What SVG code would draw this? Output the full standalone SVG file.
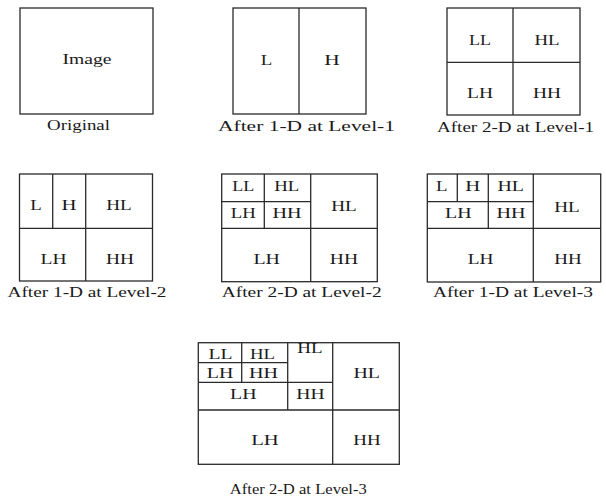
<svg xmlns="http://www.w3.org/2000/svg" width="606" height="499" viewBox="0 0 606 499">
<style>
rect.b{fill:#fff;stroke:#2a2a2a;stroke-width:1.3}
line{stroke:#2a2a2a;stroke-width:1.3}
text{font-family:"Liberation Serif","Times New Roman",serif;font-size:15px;fill:#1a1a1a;text-anchor:middle}
</style>
<rect width="606" height="499" fill="#fff"/>
<g id="original">
<rect class="b" x="20" y="8" width="133" height="106"/>
<text x="87" y="64" textLength="49" lengthAdjust="spacingAndGlyphs">Image</text>
<text x="78.5" y="129.5" textLength="63" lengthAdjust="spacingAndGlyphs">Original</text>
</g>
<g id="level1-1d">
<rect class="b" x="233" y="8" width="133" height="106"/>
<line x1="299" y1="8" x2="299" y2="114"/>
<text x="266.5" y="65" textLength="11.5" lengthAdjust="spacingAndGlyphs">L</text>
<text x="332" y="65" textLength="15.5" lengthAdjust="spacingAndGlyphs">H</text>
<text x="306.5" y="130.7" textLength="177" lengthAdjust="spacingAndGlyphs">After 1-D at Level-1</text>
</g>
<g id="level1-2d">
<rect class="b" x="447" y="8" width="133" height="107"/>
<line x1="513" y1="8" x2="513" y2="115"/>
<line x1="447" y1="62.3" x2="580" y2="62.3"/>
<text x="480" y="45" textLength="22" lengthAdjust="spacingAndGlyphs">LL</text>
<text x="547" y="45" textLength="25" lengthAdjust="spacingAndGlyphs">HL</text>
<text x="480" y="98" textLength="26" lengthAdjust="spacingAndGlyphs">LH</text>
<text x="547" y="98" textLength="28" lengthAdjust="spacingAndGlyphs">HH</text>
<text x="515.5" y="131.7" textLength="157" lengthAdjust="spacingAndGlyphs">After 2-D at Level-1</text>
</g>
<g id="level2-1d">
<rect class="b" x="19.5" y="174" width="133" height="107"/>
<line x1="19.5" y1="228.3" x2="152.5" y2="228.3"/>
<line x1="85.7" y1="174" x2="85.7" y2="281"/>
<line x1="52.7" y1="174" x2="52.7" y2="228.3"/>
<text x="36" y="210" textLength="11.5" lengthAdjust="spacingAndGlyphs">L</text>
<text x="69" y="210" textLength="15" lengthAdjust="spacingAndGlyphs">H</text>
<text x="119" y="210" textLength="25.5" lengthAdjust="spacingAndGlyphs">HL</text>
<text x="53.5" y="264" textLength="26" lengthAdjust="spacingAndGlyphs">LH</text>
<text x="120" y="264" textLength="28" lengthAdjust="spacingAndGlyphs">HH</text>
<text x="87" y="296.7" textLength="159" lengthAdjust="spacingAndGlyphs">After 1-D at Level-2</text>
</g>
<g id="level2-2d">
<rect class="b" x="221.7" y="174" width="155.6" height="107.7"/>
<line x1="310.7" y1="174" x2="310.7" y2="281.7"/>
<line x1="221.7" y1="228.3" x2="377.3" y2="228.3"/>
<line x1="221.7" y1="201.7" x2="310.7" y2="201.7"/>
<line x1="264.3" y1="174" x2="264.3" y2="228.3"/>
<text x="243.3" y="190.7" textLength="22" lengthAdjust="spacingAndGlyphs">LL</text>
<text x="286.7" y="190.7" textLength="25" lengthAdjust="spacingAndGlyphs">HL</text>
<text x="243.3" y="217.5" textLength="25" lengthAdjust="spacingAndGlyphs">LH</text>
<text x="287" y="217.5" textLength="29" lengthAdjust="spacingAndGlyphs">HH</text>
<text x="344" y="210.7" textLength="25.5" lengthAdjust="spacingAndGlyphs">HL</text>
<text x="266.7" y="264" textLength="26.5" lengthAdjust="spacingAndGlyphs">LH</text>
<text x="344" y="264" textLength="28.3" lengthAdjust="spacingAndGlyphs">HH</text>
<text x="301.7" y="296.7" textLength="160" lengthAdjust="spacingAndGlyphs">After 2-D at Level-2</text>
</g>
<g id="level3-1d">
<rect class="b" x="427.3" y="174" width="173.4" height="108"/>
<line x1="533.3" y1="174" x2="533.3" y2="282"/>
<line x1="427.3" y1="228.3" x2="600.7" y2="228.3"/>
<line x1="427.3" y1="201.7" x2="533.3" y2="201.7"/>
<line x1="488.3" y1="174" x2="488.3" y2="228.3"/>
<line x1="457.3" y1="174" x2="457.3" y2="201.7"/>
<text x="441.7" y="190.7" textLength="11.5" lengthAdjust="spacingAndGlyphs">L</text>
<text x="472.7" y="190.7" textLength="15" lengthAdjust="spacingAndGlyphs">H</text>
<text x="510.7" y="190.7" textLength="26.5" lengthAdjust="spacingAndGlyphs">HL</text>
<text x="458.3" y="218" textLength="26.5" lengthAdjust="spacingAndGlyphs">LH</text>
<text x="511" y="218" textLength="29" lengthAdjust="spacingAndGlyphs">HH</text>
<text x="567" y="211.5" textLength="25.5" lengthAdjust="spacingAndGlyphs">HL</text>
<text x="480.5" y="263.5" textLength="25.7" lengthAdjust="spacingAndGlyphs">LH</text>
<text x="568" y="263.5" textLength="27.3" lengthAdjust="spacingAndGlyphs">HH</text>
<text x="513" y="297" textLength="160" lengthAdjust="spacingAndGlyphs">After 1-D at Level-3</text>
</g>
<g id="level3-2d">
<rect class="b" x="198.3" y="342.7" width="201" height="121.6"/>
<line x1="332.7" y1="342.7" x2="332.7" y2="464.3"/>
<line x1="198.3" y1="410" x2="399.3" y2="410"/>
<line x1="287.7" y1="342.7" x2="287.7" y2="410"/>
<line x1="198.3" y1="382.3" x2="332.7" y2="382.3"/>
<line x1="198.3" y1="362.7" x2="287.7" y2="362.7"/>
<line x1="241.7" y1="342.7" x2="241.7" y2="382.3"/>
<text x="220.5" y="359.3" textLength="24" lengthAdjust="spacingAndGlyphs">LL</text>
<text x="262.5" y="359.3" textLength="25" lengthAdjust="spacingAndGlyphs">HL</text>
<text x="220" y="378.3" textLength="26.5" lengthAdjust="spacingAndGlyphs">LH</text>
<text x="263.5" y="378.3" textLength="29" lengthAdjust="spacingAndGlyphs">HH</text>
<text x="310" y="353.3" textLength="25.3" lengthAdjust="spacingAndGlyphs">HL</text>
<text x="243.3" y="399" textLength="26.5" lengthAdjust="spacingAndGlyphs">LH</text>
<text x="310.5" y="398.5" textLength="28.3" lengthAdjust="spacingAndGlyphs">HH</text>
<text x="366.7" y="378.3" textLength="26.5" lengthAdjust="spacingAndGlyphs">HL</text>
<text x="265" y="445" textLength="27.5" lengthAdjust="spacingAndGlyphs">LH</text>
<text x="367" y="445" textLength="27.3" lengthAdjust="spacingAndGlyphs">HH</text>
<text x="298.3" y="494" textLength="137" lengthAdjust="spacingAndGlyphs">After 2-D at Level-3</text>
</g>
</svg>
